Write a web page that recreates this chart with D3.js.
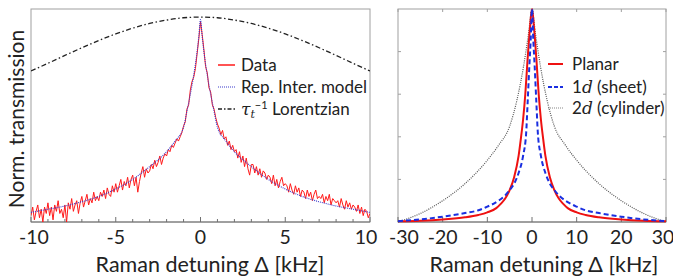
<!DOCTYPE html>
<html>
<head>
<meta charset="utf-8">
<script src="https://cdn.jsdelivr.net/npm/d3@7"></script>
<style>
  body { margin: 0; background: #fff; }
  svg { display: block; font-family: Lato, "Open Sans", sans-serif; }
  .math { font-family: "DejaVu Serif", "Liberation Serif", serif; font-style: italic; }
</style>
</head>
<body>
<div id="chart"></div>
<script>
// ---- left panel: measured data, model and Lorentzian ----
let dataStart = -10, dataStep = 0.1;
let dataValues = [
  0.03, 0.07, 0.01, 0.05, 0.08, 0.02, 0.06, 0.00, 0.07, 0.04,
  0.09, 0.03, 0.07, 0.01, 0.08, 0.05, 0.10, 0.04, 0.06, 0.02,
  0.08, 0.00, 0.09, 0.06, 0.11, 0.05, 0.08, 0.10, 0.04, 0.09,
  0.12, 0.07, 0.10, 0.13, 0.08, 0.11, 0.09, 0.14, 0.10, 0.12,
  0.10, 0.14, 0.12, 0.15, 0.11, 0.16, 0.13, 0.12, 0.17, 0.14,
  0.18, 0.14, 0.17, 0.20, 0.15, 0.19, 0.17, 0.21, 0.16, 0.20,
  0.22, 0.17, 0.21, 0.14, 0.19, 0.23, 0.26, 0.21, 0.25, 0.23,
  0.24, 0.27, 0.25, 0.29, 0.26, 0.28, 0.31, 0.27, 0.30, 0.32,
  0.31, 0.34, 0.33, 0.36, 0.35, 0.37, 0.39, 0.38, 0.40, 0.42,
  0.45, 0.47, 0.53, 0.55, 0.62, 0.66, 0.68, 0.72, 0.79, 0.86,
  0.94,
  0.88, 0.81, 0.73, 0.70, 0.63, 0.61, 0.55, 0.53, 0.49, 0.46,
  0.44, 0.41, 0.43, 0.39, 0.40, 0.36, 0.38, 0.34, 0.36, 0.33,
  0.34, 0.30, 0.33, 0.28, 0.31, 0.26, 0.30, 0.25, 0.22, 0.27,
  0.27, 0.23, 0.26, 0.22, 0.25, 0.21, 0.24, 0.23, 0.20, 0.22,
  0.21, 0.18, 0.22, 0.17, 0.20, 0.16, 0.19, 0.21, 0.17, 0.18,
  0.17, 0.14, 0.18, 0.15, 0.13, 0.17, 0.14, 0.16, 0.12, 0.15,
  0.14, 0.11, 0.15, 0.12, 0.14, 0.10, 0.13, 0.15, 0.11, 0.12,
  0.11, 0.13, 0.09, 0.12, 0.10, 0.13, 0.08, 0.11, 0.10, 0.09,
  0.10, 0.07, 0.11, 0.08, 0.06, 0.10, 0.07, 0.09, 0.06, 0.08,
  0.07, 0.05, 0.08, 0.04, 0.07, 0.03, 0.06, 0.05, 0.02, 0.04
];

let modelX = [-10, -9, -8, -7, -6, -5, -4, -3, -2, -1.5, -1, -0.8, -0.6, -0.4, -0.2, -0.1, 0,
              0.1, 0.2, 0.4, 0.6, 0.8, 1, 1.5, 2, 3, 4, 5, 6, 7, 8, 9, 10];
let modelY = [0.045, 0.06, 0.075, 0.095, 0.12, 0.155, 0.2, 0.26, 0.33, 0.38, 0.445, 0.52, 0.6, 0.69, 0.8, 0.87, 0.95,
              0.87, 0.8, 0.69, 0.6, 0.52, 0.445, 0.38, 0.33, 0.26, 0.2, 0.155, 0.12, 0.095, 0.075, 0.06, 0.045];

let lorentzX = [-10, -9, -8, -7, -6, -5, -4, -3, -2, -1, 0, 1, 2, 3, 4, 5, 6, 7, 8, 9, 10];
let lorentzY = [0.709, 0.745, 0.782, 0.818, 0.852, 0.883, 0.91, 0.932, 0.948, 0.959, 0.962,
                0.959, 0.948, 0.932, 0.91, 0.883, 0.852, 0.818, 0.782, 0.745, 0.709];

// ---- right panel: planar / sheet / cylinder ----
let planarX = [-30, -25, -20, -15, -12, -10, -8, -7, -6, -5, -4, -3, -2.5, -2, -1.5, -1, -0.5, 0,
               0.5, 1, 1.5, 2, 2.5, 3, 4, 5, 6, 7, 8, 10, 12, 15, 20, 25, 30];
let planarY = [0.003, 0.006, 0.012, 0.022, 0.033, 0.045, 0.065, 0.085, 0.11, 0.15, 0.21, 0.31, 0.39, 0.48, 0.6, 0.76, 0.9, 1,
               0.9, 0.76, 0.6, 0.48, 0.39, 0.31, 0.21, 0.15, 0.11, 0.085, 0.065, 0.045, 0.033, 0.022, 0.012, 0.006, 0.003];

let sheetX = [-30, -25, -20, -15, -12, -10, -7.5, -6, -5, -4, -3, -2, -1.3, -1, -0.6, -0.3, 0,
              0.3, 0.6, 1, 1.3, 2, 3, 4, 5, 6, 7.5, 10, 12, 15, 20, 25, 30];
let sheetY = [0.004, 0.012, 0.025, 0.042, 0.055, 0.072, 0.1, 0.125, 0.15, 0.18, 0.23, 0.31, 0.42, 0.55, 0.73, 0.85, 1,
              0.85, 0.73, 0.55, 0.42, 0.31, 0.23, 0.18, 0.15, 0.125, 0.1, 0.072, 0.055, 0.042, 0.025, 0.012, 0.004];

let cylX = [-30, -25, -20, -15, -10, -7.5, -5, -3.4, -1.9, -0.8, 0, 0.8, 1.9, 3.4, 5, 7.5, 10, 15, 20, 25, 30];
let cylY = [0, 0.04, 0.1, 0.18, 0.29, 0.36, 0.45, 0.57, 0.73, 0.88, 1, 0.88, 0.73, 0.57, 0.45, 0.36, 0.29, 0.18, 0.1, 0.04, 0];

let leftTicks = [-10, -5, 0, 5, 10];
let rightTicks = [-30, -20, -10, 0, 10, 20, 30];

const W = 673, H = 276;
const svg = d3.select("#chart").append("svg").attr("width", W).attr("height", H);

const frameTop = 9, frameBottom = 222;

function zip(xs, ys) { return xs.map((x, i) => ({x: x, y: ys[i]})); }

function drawFrame(g, x, y, minorTicks, majorTicks, sideTicks, edgeShift) {
    let x0 = x.range()[0], x1 = x.range()[1];

    // grey box
    g.append("rect")
        .attr("x", x0).attr("y", frameTop)
        .attr("width", x1 - x0).attr("height", frameBottom - frameTop)
        .attr("fill", "none").attr("stroke", "#a0a0a0").attr("stroke-width", 1);

    // bottom axis line a bit darker
    g.append("line")
        .attr("x1", x0).attr("x2", x1).attr("y1", frameBottom).attr("y2", frameBottom)
        .attr("stroke", "#707070").attr("stroke-width", 1.2);

    // inward ticks
    minorTicks.forEach(t => {
        let big = majorTicks.includes(t);
        g.append("line")
            .attr("x1", x(t)).attr("x2", x(t))
            .attr("y1", frameBottom).attr("y2", frameBottom - (big ? 5 : 3))
            .attr("stroke", "#707070");
    });
    if (sideTicks) {
        majorTicks.forEach(t => {
            g.append("line")
                .attr("x1", x(t)).attr("x2", x(t))
                .attr("y1", frameTop).attr("y2", frameTop + 3)
                .attr("stroke", "#a0a0a0");
        });
        [0.2, 0.4, 0.6, 0.8].forEach(v => {
            g.append("line").attr("x1", x0).attr("x2", x0 + 3)
                .attr("y1", y(v)).attr("y2", y(v)).attr("stroke", "#a0a0a0");
            g.append("line").attr("x1", x1).attr("x2", x1 - 3)
                .attr("y1", y(v)).attr("y2", y(v)).attr("stroke", "#a0a0a0");
        });
    }

    // tick labels (end labels pulled slightly inside)
    let last = majorTicks.length - 1;
    g.selectAll(".tl").data(majorTicks).enter().append("text")
        .attr("x", (d, i) => x(d) + (i == 0 ? edgeShift[0] : i == last ? edgeShift[1] : 0))
        .attr("y", 244)
        .attr("text-anchor", "middle")
        .attr("font-size", 19.5).attr("fill", "#222")
        .text(d => d);
}

// ================= left panel =================
let xL = d3.scaleLinear().domain([-10, 10]).range([31, 370]);
let yL = d3.scaleLinear().domain([0, 1]).range([frameBottom, frameTop]);
let gL = svg.append("g");

svg.append("clipPath").attr("id", "clipL").append("rect")
    .attr("x", 31).attr("y", frameTop - 2).attr("width", 339).attr("height", frameBottom - frameTop + 2);

drawFrame(gL, xL, yL, d3.range(-10, 11, 1), leftTicks, false, [3, -4]);

let lineL = d3.line().x(d => xL(d.x)).y(d => yL(d.y));
let dataPts = dataValues.map((v, i) => ({x: dataStart + i * dataStep, y: v}));

gL.append("path")
    .datum(zip(lorentzX, lorentzY))
    .attr("clip-path", "url(#clipL)")
    .attr("fill", "none").attr("stroke", "#222").attr("stroke-width", 1.3)
    .attr("stroke-dasharray", "5,2.5,1.5,2.5")
    .attr("d", lineL.curve(d3.curveMonotoneX));

gL.append("path")
    .datum(dataPts)
    .attr("clip-path", "url(#clipL)")
    .attr("fill", "none").attr("stroke", "#ff1a1a").attr("stroke-width", 1)
    .attr("d", d3.line().x(d => xL(d.x)).y(d => yL(d.y)));

gL.append("path")
    .datum(zip(modelX, modelY))
    .attr("clip-path", "url(#clipL)")
    .attr("fill", "none").attr("stroke", "#3a3acc").attr("stroke-width", 1.1)
    .attr("stroke-dasharray", "1,1")
    .attr("d", d3.line().x(d => xL(d.x)).y(d => yL(d.y)).curve(d3.curveMonotoneX));

// left legend
let legL = gL.append("g").attr("font-size", 17).attr("fill", "#222");
legL.append("line").attr("x1", 218).attr("x2", 235).attr("y1", 65).attr("y2", 65)
    .attr("stroke", "#ff1a1a").attr("stroke-width", 1.5);
legL.append("text").attr("x", 241).attr("y", 71).text("Data");
legL.append("line").attr("x1", 218).attr("x2", 235).attr("y1", 87).attr("y2", 87)
    .attr("stroke", "#3a3acc").attr("stroke-width", 1.1).attr("stroke-dasharray", "1,1");
legL.append("text").attr("x", 241).attr("y", 93).text("Rep. Inter. model");
legL.append("line").attr("x1", 218).attr("x2", 235).attr("y1", 109).attr("y2", 109)
    .attr("stroke", "#222").attr("stroke-width", 1.3).attr("stroke-dasharray", "4,2,1.5,2");
let tauText = legL.append("text").attr("x", 241).attr("y", 115);
tauText.append("tspan").attr("class", "math").text("τ");
tauText.append("tspan").attr("class", "math").attr("font-size", 11).attr("dy", 3).text("t");
tauText.append("tspan").attr("font-size", 11).attr("dy", -9).text("−1");
tauText.append("tspan").attr("dy", 6).text(" Lorentzian");

// y label
svg.append("text")
    .attr("transform", "translate(24,119) rotate(-90)")
    .attr("text-anchor", "middle").attr("font-size", 21).attr("fill", "#222")
    .text("Norm. transmission");

svg.append("text")
    .attr("x", 210).attr("y", 272).attr("text-anchor", "middle")
    .attr("font-size", 21.5).attr("fill", "#222")
    .text("Raman detuning Δ [kHz]");

// ================= right panel =================
let xR = d3.scaleLinear().domain([-30, 30]).range([398, 666]);
let yR = d3.scaleLinear().domain([0, 1]).range([frameBottom, frameTop]);
let gR = svg.append("g");

drawFrame(gR, xR, yR, rightTicks, rightTicks, true, [6, -3]);

let lineR = d3.line().x(d => xR(d.x)).y(d => yR(d.y)).curve(d3.curveMonotoneX);

gR.append("path").datum(zip(cylX, cylY))
    .attr("fill", "none").attr("stroke", "#555").attr("stroke-width", 1.2)
    .attr("stroke-dasharray", "1,1.2")
    .attr("d", lineR);

gR.append("path").datum(zip(planarX, planarY))
    .attr("fill", "none").attr("stroke", "#ee1111").attr("stroke-width", 2)
    .attr("d", lineR);

gR.append("path").datum(zip(sheetX, sheetY))
    .attr("fill", "none").attr("stroke", "#1a2fe0").attr("stroke-width", 2)
    .attr("stroke-dasharray", "5,3")
    .attr("d", lineR);

// right legend
let legR = gR.append("g").attr("font-size", 17).attr("fill", "#222");
legR.append("line").attr("x1", 548).attr("x2", 563).attr("y1", 64).attr("y2", 64)
    .attr("stroke", "#ee1111").attr("stroke-width", 2);
legR.append("text").attr("x", 572).attr("y", 70).text("Planar");
legR.append("line").attr("x1", 548).attr("x2", 563).attr("y1", 87).attr("y2", 87)
    .attr("stroke", "#1a2fe0").attr("stroke-width", 2).attr("stroke-dasharray", "4,2");
let t1 = legR.append("text").attr("x", 572).attr("y", 93);
t1.append("tspan").text("1");
t1.append("tspan").attr("class", "math").text("d");
t1.append("tspan").text(" (sheet)");
legR.append("line").attr("x1", 548).attr("x2", 563).attr("y1", 108).attr("y2", 108)
    .attr("stroke", "#888").attr("stroke-width", 1.2).attr("stroke-dasharray", "1,1");
let t2 = legR.append("text").attr("x", 572).attr("y", 114);
t2.append("tspan").text("2");
t2.append("tspan").attr("class", "math").text("d");
t2.append("tspan").text(" (cylinder)");

svg.append("text")
    .attr("x", 544).attr("y", 272).attr("text-anchor", "middle")
    .attr("font-size", 21.5).attr("fill", "#222")
    .text("Raman detuning Δ [kHz]");
</script>
</body>
</html>
